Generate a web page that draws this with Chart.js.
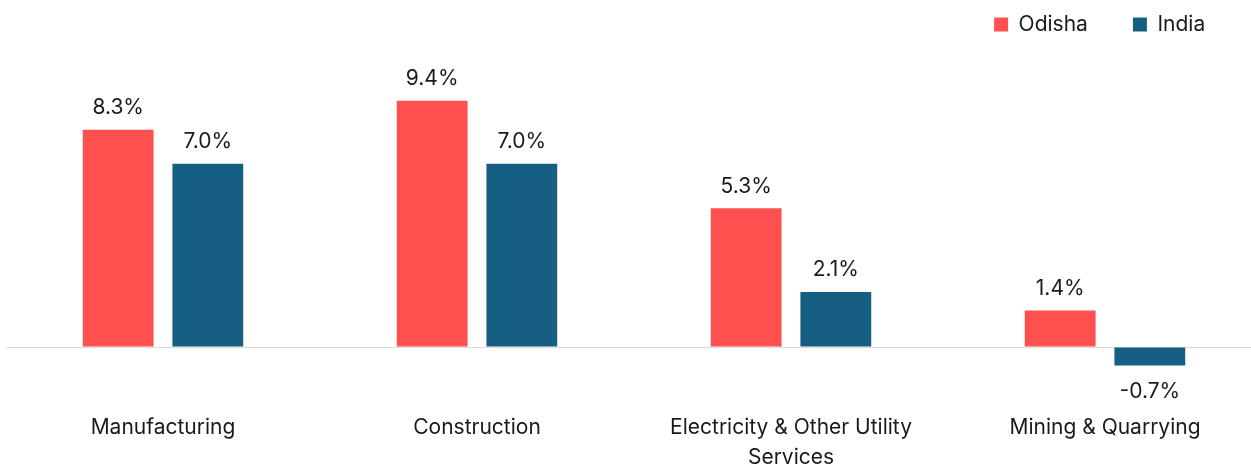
<!DOCTYPE html>
<html>
<head>
<meta charset="utf-8">
<script src="https://cdn.jsdelivr.net/npm/chart.js@4"></script>
<style>
  html, body { margin: 0; padding: 0; background: #fff; }
  #wrap { width: 1251px; height: 465px; overflow: hidden; position: relative; }
  canvas { display: block; }
</style>
</head>
<body>
<div id="wrap"><canvas id="growthChart" width="1262" height="465"></canvas></div>
<script>
// values
const categories = ['Manufacturing', 'Construction', ['Electricity & Other Utility', 'Services'], 'Mining & Quarrying'];
const odishaValues = [8.3, 9.4, 5.3, 1.4];
const indiaValues = [7.0, 7.0, 2.1, -0.7];
const seriesNames = ['Odisha', 'India'];

const RED = '#FF5050';
const BLUE = '#165F82';
const FONT = 'Inter, "Open Sans", sans-serif';
const FONT_SIZE = 21;

// simple value labels above/below each bar
const barValueLabels = {
  id: 'barValueLabels',
  afterDatasetsDraw(chart){
    const ctx = chart.ctx;
    ctx.save();
    ctx.font = FONT_SIZE + 'px ' + FONT;
    ctx.fillStyle = '#1a1a1a';
    ctx.textAlign = 'center';
    ctx.textBaseline = 'middle';
    chart.data.datasets.forEach((ds, di) => {
      const meta = chart.getDatasetMeta(di);
      meta.data.forEach((bar, i) => {
        const v = ds.data[i];
        const y = v >= 0 ? bar.y - 22 : bar.y + 26;
        ctx.fillText(v.toFixed(1) + '%', bar.x, y);
      });
    });
    ctx.restore();
  }
};

function createBarChart(ctx, data, options){
  return new Chart(ctx, { type: 'bar', data: data, options: options || {}, plugins: [barValueLabels] });
}

const ctx = document.getElementById('growthChart').getContext('2d');
createBarChart(ctx, {
  labels: categories,
  datasets: [
    { label: seriesNames[0], data: odishaValues, backgroundColor: RED, categoryPercentage: 0.571, barPercentage: 0.79 },
    { label: seriesNames[1], data: indiaValues, backgroundColor: BLUE, categoryPercentage: 0.571, barPercentage: 0.79 }
  ]
}, {
  responsive: false,
  animation: false,
  layout: { padding: { left: 6, right: 0, top: -31, bottom: -28 } },
  plugins: {
    legend: {
      position: 'top',
      align: 'end',
      labels: {
        boxWidth: 14, boxHeight: 14, padding: 45,
        color: '#1a1a1a',
        font: { family: FONT, size: FONT_SIZE },
        // canvas runs past the visible edge, so pull the last item in a bit
        generateLabels(chart){
          const items = Chart.defaults.plugins.legend.labels.generateLabels(chart);
          items[items.length - 1].text += '  ';
          return items;
        }
      }
    },
    tooltip: { enabled: false }
  },
  scales: {
    x: {
      grid: { display: false, drawTicks: false },
      border: { display: false },
      ticks: { color: '#1a1a1a', padding: 20, maxRotation: 0, font: { family: FONT, size: FONT_SIZE, lineHeight: 1.43 } }
    },
    y: {
      min: -1.75,
      max: 11.53,
      border: { display: false },
      grid: {
        drawTicks: false,
        color: c => (c.tick && c.tick.value === 0) ? '#d9d9d9' : 'rgba(0,0,0,0)'
      },
      ticks: { display: false, stepSize: 1 }
    }
  }
});
</script>
</body>
</html>
